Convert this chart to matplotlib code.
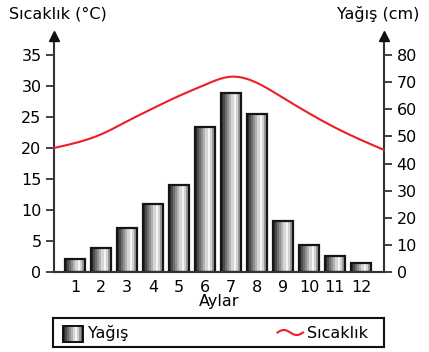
import numpy as np
import matplotlib
matplotlib.use("Agg")
import matplotlib.pyplot as plt
from matplotlib.patches import Rectangle

plt.rcParams['font.family'] = ['DejaVu Sans']

# ---- data ----
months = [1, 2, 3, 4, 5, 6, 7, 8, 9, 10, 11, 12]
month_labels = ['1', '2', '3', '4', '5', '6', '7', '8', '9', '10', '11', '12']
rain_cm = [4.7, 9.0, 16.1, 25.1, 32.0, 53.5, 65.9, 58.2, 18.7, 10.1, 5.8, 3.2]
temp_x = [0.19, 1, 2, 3, 4, 5, 6, 7, 8, 9, 10, 11, 12, 12.88]
temp_c = [20.0, 20.8, 22.2, 24.3, 26.4, 28.4, 30.2, 31.5, 30.5, 28.1, 25.6, 23.3, 21.3, 19.7]
temp_ticks = [0, 5, 10, 15, 20, 25, 30, 35]
rain_ticks = [0, 10, 20, 30, 40, 50, 60, 70, 80]


def natural_spline(x, y, xs):
    """Evaluate a natural cubic spline through (x, y) at xs."""
    x = np.asarray(x, float)
    y = np.asarray(y, float)
    n = len(x)
    h = np.diff(x)
    A = np.zeros((n, n))
    r = np.zeros(n)
    A[0, 0] = A[-1, -1] = 1.0
    for i in range(1, n - 1):
        A[i, i - 1] = h[i - 1]
        A[i, i] = 2 * (h[i - 1] + h[i])
        A[i, i + 1] = h[i]
        r[i] = 6 * ((y[i + 1] - y[i]) / h[i] - (y[i] - y[i - 1]) / h[i - 1])
    M = np.linalg.solve(A, r)
    idx = np.clip(np.searchsorted(x, xs) - 1, 0, n - 2)
    x0, x1 = x[idx], x[idx + 1]
    hh = x1 - x0
    a = (x1 - xs) / hh
    b = (xs - x0) / hh
    return (a * y[idx] + b * y[idx + 1]
            + ((a ** 3 - a) * M[idx] + (b ** 3 - b) * M[idx + 1]) * hh ** 2 / 6)


W, H = 429, 352
fig = plt.figure(figsize=(W / 100, H / 100), dpi=100)

ax_l, ax_r, ax_b, ax_t = 54, 384, 272, 36
ax = fig.add_axes([ax_l / W, (H - ax_b) / H, (ax_r - ax_l) / W, (ax_b - ax_t) / H])
ax2 = ax.twinx()

px_per_c = 217 / 35.0
tmax = (ax_b - ax_t) / px_per_c
xlo, xhi = 0.192, 12.885

spine_col = '#333333'
fs = 11.5

# gradient-shaded cylinder bars
stripes = ['#2e2e2e', '#4c4c4c', '#6e6e6e', '#909090', '#b2b2b2', '#d6d6d6',
           '#f4f4f4', '#d2d2d2', '#9a9a9a', '#5e5e5e']
rgb = np.array([matplotlib.colors.to_rgb(c) for c in stripes])[None, :, :]
bw = 0.77
for m, v in zip(months, rain_cm):
    ax2.imshow(rgb, extent=(m - bw / 2, m + bw / 2, 0, v), aspect='auto',
               interpolation='nearest', zorder=2)
    ax2.add_patch(Rectangle((m - bw / 2, 0), bw, v, fill=False,
                            edgecolor='#151515', linewidth=1.6, zorder=3))
ax2.set_xlim(xlo, xhi)
ax2.set_ylim(0, tmax * 80 / 35)

# smooth temperature curve
xs = np.linspace(temp_x[0], temp_x[-1], 400)
ax.plot(xs, natural_spline(temp_x, temp_c, xs), color='#ee1c25',
        linewidth=1.5, zorder=5, clip_on=False)
ax.set_xlim(xlo, xhi)
ax.set_ylim(0, tmax)
ax.set_zorder(ax2.get_zorder() + 1)
ax.patch.set_visible(False)

# axes styling
for a in (ax, ax2):
    a.spines['top'].set_visible(False)
    for s in ('left', 'right', 'bottom'):
        a.spines[s].set_color(spine_col)
        a.spines[s].set_linewidth(1.5)
ax.spines['right'].set_visible(False)
ax2.spines['left'].set_visible(False)

ax.set_yticks(temp_ticks)
ax.set_yticklabels([str(t) for t in temp_ticks], fontsize=fs)
ax.tick_params(axis='y', direction='out', length=6, width=1.3, color=spine_col, pad=3)
ax2.set_yticks(rain_ticks)
ax2.set_yticklabels([str(t) for t in rain_ticks], fontsize=fs)
ax2.tick_params(axis='y', direction='out', length=6, width=1.3, color=spine_col, pad=3)

ax.set_xticks(months)
ax.set_xticklabels(month_labels, fontsize=fs)
ax.tick_params(axis='x', length=0, pad=6)
ax.set_xlabel('Aylar', fontsize=fs, labelpad=-1)

# arrowheads at the top of both vertical axes
for xa in (0, 1):
    ax.plot([xa], [1.0], marker='^', markersize=7, color='#111111',
            transform=ax.transAxes, clip_on=False, zorder=6)

fig.text(58 / W, 1 - 14 / H, 'Sıcaklık (°C)', fontsize=fs, ha='center', va='center')
fig.text(378 / W, 1 - 14 / H, 'Yağış (cm)', fontsize=fs, ha='center', va='center')

# legend box
lx0, lx1, ly0, ly1 = 53, 384, 318, 347
lg = fig.add_axes([lx0 / W, (H - ly1) / H, (lx1 - lx0) / W, (ly1 - ly0) / H])
lg.set_xticks([])
lg.set_yticks([])
for s in lg.spines.values():
    s.set_color('#111111')
    s.set_linewidth(1.5)
lg.imshow(rgb, extent=(9.5, 29.5, 5.5, 21.5), aspect='auto', interpolation='nearest')
lg.add_patch(Rectangle((9.5, 5.5), 20, 16, fill=False, edgecolor='#111111', linewidth=1.4))
lg.text(34.5, 14, 'Yağış', fontsize=fs, ha='left', va='center')
wx = np.linspace(224.5, 250, 40)
lg.plot(wx, 14.5 + 2.5 * np.sin((wx - 224.5) / 25.5 * 2 * np.pi), color='#ee1c25', linewidth=1.5)
lg.text(253.5, 14, 'Sıcaklık', fontsize=fs, ha='left', va='center')
lg.set_xlim(0, lx1 - lx0)
lg.set_ylim(0, ly1 - ly0)

fig.savefig('out.png', dpi=100)
